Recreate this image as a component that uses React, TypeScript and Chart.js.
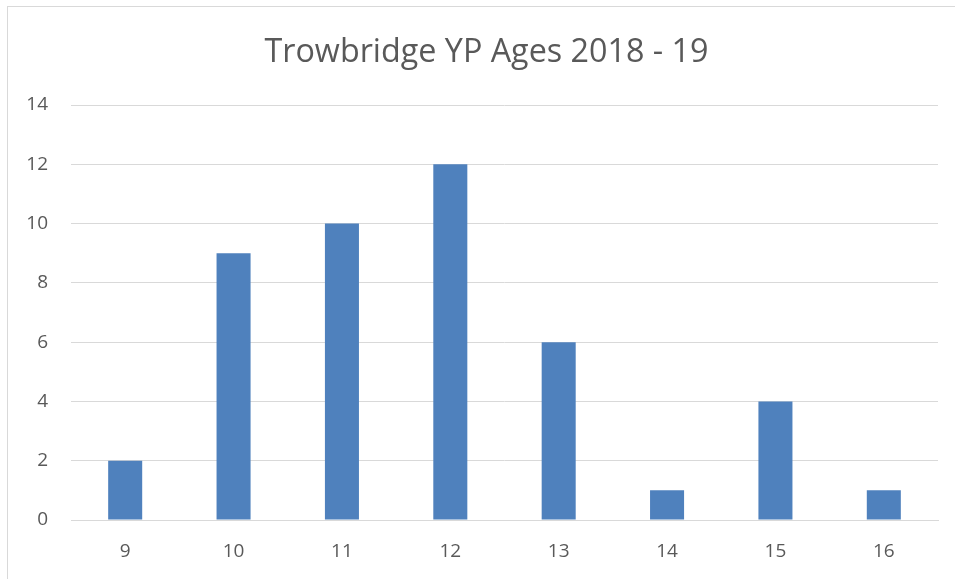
import React, { useEffect, useRef } from "react";
import { Chart, registerables } from "chart.js";

Chart.register(...registerables);

const categories = ["9", "10", "11", "12", "13", "14", "15", "16"];
const values = [2, 9, 10, 12, 6, 1, 4, 1];
const titleText = "Trowbridge YP Ages 2018 - 19";
const yMin = 0;
const yMax = 14;
const yStep = 2;

const titlePlugin = {
  id: "customTitle",
  afterDraw(chart: any) {
    const c = chart.ctx;
    c.save();
    c.font = "normal 32.3px 'Open Sans'";
    c.fillStyle = "#595959";
    c.textAlign = "center";
    c.textBaseline = "alphabetic";
    c.fillText(titleText, chart.width / 2 + 9, 62);
    c.restore();
  },
};

export default function App() {
  const ref = useRef<HTMLCanvasElement | null>(null);

  useEffect(() => {
    document.body.style.margin = "0";
    const ctx = ref.current!;
    const chart = new Chart(ctx, {
      type: "bar",
      data: {
        labels: categories,
        datasets: [
          {
            data: values,
            backgroundColor: "#4F81BD",
            borderWidth: 0,
            categoryPercentage: 1,
            barPercentage: 0.314,
          },
        ],
      },
      plugins: [titlePlugin],
      options: {
        animation: false,
        responsive: false,
        layout: { padding: { top: 105, right: 17, bottom: 0, left: 0 } },
        plugins: {
          legend: { display: false },
          tooltip: { enabled: false },
          title: { display: false },
        },
        scales: {
          x: {
            grid: { display: false, drawTicks: false },
            border: { display: true, color: "#D9D9D9", width: 1 },
            ticks: {
              color: "#595959",
              font: { family: "Open Sans", size: 19 },
              padding: 20,
            },
            afterFit: (s: any) => {
              s.height = 59;
            },
          },
          y: {
            min: yMin,
            max: yMax,
            grid: { color: "#D9D9D9", lineWidth: 1, drawTicks: false },
            border: { display: false },
            ticks: {
              stepSize: yStep,
              color: "#595959",
              font: { family: "Open Sans", size: 19 },
              padding: 23,
            },
            afterFit: (s: any) => {
              s.width = 71;
            },
          },
        },
      },
    });
    return () => chart.destroy();
  }, []);

  return (
    <div style={{ position: "relative", width: 955, height: 579, background: "#fff", overflow: "hidden" }}>
      <canvas ref={ref} width={955} height={579} style={{ display: "block" }} />
      <div
        style={{
          position: "absolute",
          left: 7,
          top: 6,
          width: 1000,
          height: 1000,
          borderLeft: "1px solid #D9D9D9",
          borderTop: "1px solid #D9D9D9",
          pointerEvents: "none",
        }}
      />
    </div>
  );
}
